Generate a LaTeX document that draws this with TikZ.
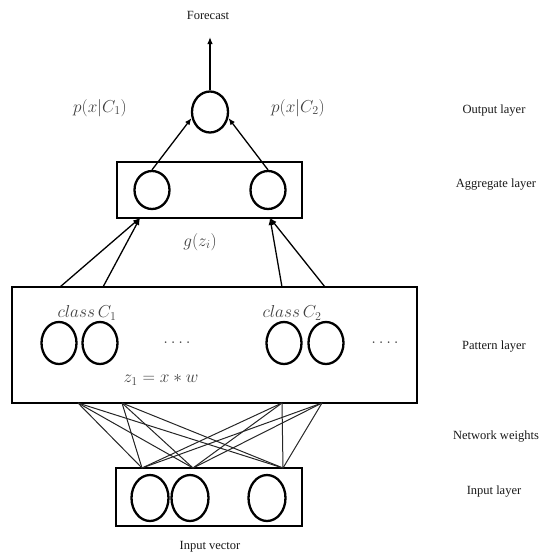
\documentclass[tikz,border=0pt]{standalone}
\usepackage{fontspec}
\setmainfont{Liberation Serif}
\usetikzlibrary{shapes.geometric,arrows.meta,calc}

\tikzset{
  layerbox/.style={draw, line width=2.6pt, rectangle, inner sep=0pt},
  neuron/.style={draw, line width=2.3pt, ellipse, inner sep=0pt},
  flow/.style={line width=1.3pt, -{Latex[length=7pt,width=5.5pt]}},
  weight/.style={line width=1pt, draw=black!85},
  sidelabel/.style={font=\fontsize{12.5}{14}\selectfont, text=black!90},
  mathlabel/.style={font=\fontsize{17}{20}\selectfont, text=black!75},
}

\begin{document}
\begin{tikzpicture}[x=1pt,y=-1pt]
\useasboundingbox (0,0) rectangle (539,557);

% output layer
\node[sidelabel] (forecast) at (208,15) {Forecast};
\node[neuron, minimum width=36pt, minimum height=41pt] (out) at (210,112) {};
\coordinate (fc) at (210,37);
\draw[flow] (out.north) -- (fc);
\node[mathlabel] (p1) at (100,108) {$p(x|C_1)$};
\node[mathlabel] (p2) at (298,108) {$p(x|C_2)$};

% aggregate layer
\node[layerbox, minimum width=185pt, minimum height=56pt] (agg) at (209.5,190) {};
\node[neuron, minimum width=35pt, minimum height=38pt] (a1) at (152,190) {};
\node[neuron, minimum width=35pt, minimum height=38pt] (a2) at (268,190) {};
\draw[flow] (a1.north) -- (out.198);
\draw[flow] (a2.north) -- (out.-18);
\node[mathlabel] (g) at (200,242) {$g(z_i)$};

% pattern layer
\node[layerbox, minimum width=405pt, minimum height=116pt] (pat) at (214.5,345) {};
\node[neuron, minimum width=35pt, minimum height=42pt] (c1) at (59,343) {};
\node[neuron, minimum width=35pt, minimum height=42pt] (c2) at (100,343) {};
\node[neuron, minimum width=35pt, minimum height=42pt] (c3) at (284,343) {};
\node[neuron, minimum width=35pt, minimum height=42pt] (c4) at (326,343) {};
\node[mathlabel] (cl1) at (87,313) {$class\,C_1$};
\node[mathlabel] (cl2) at (292,313) {$class\,C_2$};
\node[mathlabel] (d1) at (177,343) {$.\,.\,.\,.$};
\node[mathlabel] (d2) at (385,343) {$.\,.\,.\,.$};
\node[mathlabel] (zl) at (161,380) {$z_1 = x * w$};

% pattern -> aggregate
\coordinate (s1) at (60,287);
\coordinate (s2) at (103,287);
\coordinate (s3) at (282,287);
\coordinate (s4) at (325,287);
\coordinate (e1) at (140,218);
\coordinate (e2) at (270,218);
\draw[flow] (s1) -- (e1);
\draw[flow] (s2) -- (e1);
\draw[flow] (s3) -- (e2);
\draw[flow] (s4) -- (e2);

% input layer
\node[layerbox, minimum width=186pt, minimum height=58pt] (inp) at (209,497) {};
\node[neuron, minimum width=37pt, minimum height=46pt] (i1) at (150,498) {};
\node[neuron, minimum width=37pt, minimum height=46pt] (i2) at (190,498) {};
\node[neuron, minimum width=37pt, minimum height=46pt] (i3) at (267,498) {};
\node[sidelabel] (iv) at (210,547) {Input vector};

% network weights: every input tap joined to every pattern tap
\coordinate (t1) at (78,403);
\coordinate (t2) at (122,403);
\coordinate (t3) at (282,403);
\coordinate (t4) at (322,403);
\coordinate (b1) at (142,468);
\coordinate (b2) at (193,468);
\coordinate (b3) at (283,468);
\foreach \t in {t1,t2,t3,t4}
  \foreach \b in {b1,b2,b3}
    \draw[weight] (\t) -- (\b);

% layer names
\node[sidelabel] (lo) at (494,111) {Output layer};
\node[sidelabel] (la) at (496,185) {Aggregate layer};
\node[sidelabel] (lp) at (494,347) {Pattern layer};
\node[sidelabel] (lw) at (496,437) {Network weights};
\node[sidelabel] (li) at (494,492) {Input layer};
\end{tikzpicture}
\end{document}
